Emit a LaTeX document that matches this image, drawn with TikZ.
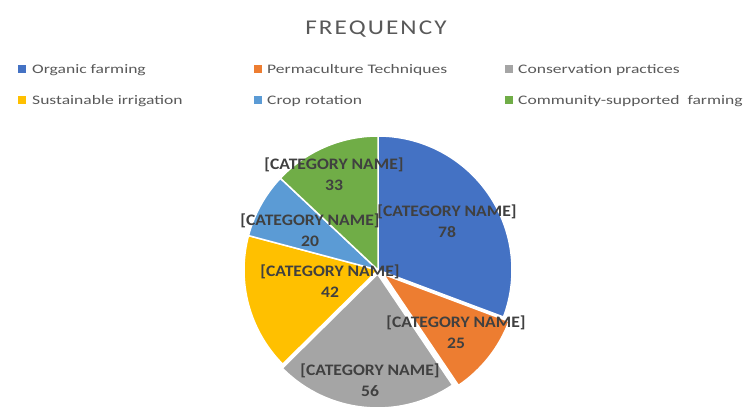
\documentclass[tikz,border=0pt]{standalone}
\usepackage{fontspec}
\setmainfont{Carlito}
\newfontfamily\titlefont{Carlito}[FakeStretch=1.2,LetterSpace=10]
\newfontfamily\legfont{Carlito}[FakeStretch=1.35]
\newfontfamily\labfont{Carlito}[FakeStretch=1.1]
\usetikzlibrary{calc}
\definecolor{cblue}{HTML}{4472C4}
\definecolor{corange}{HTML}{ED7D31}
\definecolor{cgray}{HTML}{A5A5A5}
\definecolor{cyellow}{HTML}{FFC000}
\definecolor{clblue}{HTML}{5B9BD5}
\definecolor{cgreen}{HTML}{70AD47}
\definecolor{txtgray}{HTML}{595959}
\definecolor{labtxt}{HTML}{404040}
\newcommand\pieslice[4]{%
  \fill[#1, draw=white, line width=1.5pt, line join=round]
    ($(pc)+({(#2+#3)/2}:#4pt)$) coordinate (tmp) -- ++(#2:134pt)
    arc[start angle=#2, end angle=#3, radius=134pt] -- cycle;
}
\tikzset{
  legsq/.style={minimum size=8pt, inner sep=0pt, anchor=south west},
  legtxt/.style={anchor=base west, inner sep=0pt, text=txtgray, font=\legfont\fontsize{13}{15}\selectfont},
  catlab/.style={align=center, inner sep=0pt, text=labtxt, font=\labfont\bfseries\fontsize{16}{21}\selectfont},
}
\begin{document}
\begin{tikzpicture}[x=1pt,y=1pt]
\useasboundingbox[fill=white] (0,0) rectangle (743,408);
\coordinate (pc) at (378,138);
% title
\node[anchor=base, inner sep=0pt, text=txtgray, font=\titlefont\fontsize{21}{25}\selectfont] (title) at (376,373) {FREQUENCY};
% legend
\node[legsq, fill=cblue]   (sq1) at (18,335) {};
\node[legtxt] (lt1) at (32,335) {Organic farming};
\node[legsq, fill=corange] (sq2) at (254,335) {};
\node[legtxt] (lt2) at (267,335) {Permaculture Techniques};
\node[legsq, fill=cgray]   (sq3) at (505,335) {};
\node[legtxt] (lt3) at (518,335) {Conservation practices};
\node[legsq, fill=cyellow] (sq4) at (18,304) {};
\node[legtxt] (lt4) at (32,304) {Sustainable irrigation};
\node[legsq, fill=clblue]  (sq5) at (254,304) {};
\node[legtxt] (lt5) at (267,304) {Crop rotation};
\node[legsq, fill=cgreen]  (sq6) at (505,304) {};
\node[legtxt] (lt6) at (518,304) {Community-supported\ \ farming};
% pie slices
\pieslice{cblue}{90}{-20.55}{0}
\pieslice{corange}{-20.55}{-55.98}{7}
\pieslice{cgray}{-55.98}{-135.35}{4}
\pieslice{cyellow}{-135.35}{-194.88}{0}
\pieslice{clblue}{-194.88}{-223.23}{0}
\pieslice{cgreen}{-223.23}{-270}{0}
% labels
\node[catlab] (l1) at (447,186.5) {[CATEGORY NAME]\\78};
\node[catlab] (l2) at (456,75.5) {[CATEGORY NAME]\\25};
\node[catlab] (l3) at (370,28) {[CATEGORY NAME]\\56};
\node[catlab] (l4) at (330,127) {[CATEGORY NAME]\\42};
\node[catlab] (l5) at (310,177.5) {[CATEGORY NAME]\\20};
\node[catlab] (l6) at (334,233.5) {[CATEGORY NAME]\\33};
\end{tikzpicture}
\end{document}
